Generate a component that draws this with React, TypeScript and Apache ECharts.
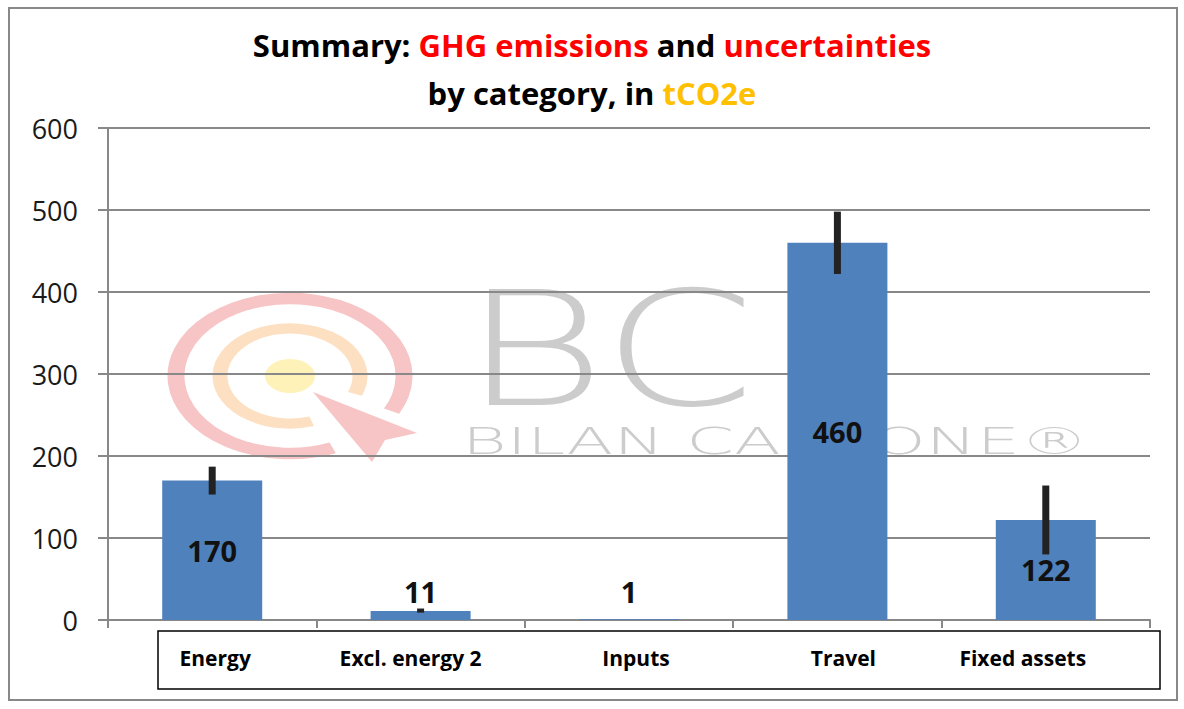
import React, { useEffect, useRef } from "react";
import * as echarts from "echarts";

const categories = ["Energy", "Excl. energy 2", "Inputs", "Travel", "Fixed assets"];
const values = [170, 11, 1, 460, 122];
const errLow = [153, 9, 1, 422, 80];
const errHigh = [187, 14, 1, 498, 164];
const yTicks = { min: 0, max: 600, interval: 100 };

const labelShift = [3, -10, 7, 6, -23];
const FONT = "'Open Sans', 'Noto Sans', sans-serif";

export default function App() {
  const ref = useRef<HTMLDivElement>(null);
  useEffect(() => {
    if (!ref.current) return;
    const chart = echarts.init(ref.current, undefined, { renderer: "svg" });
    const rich: any = {};
    labelShift.forEach((d, i) => {
      rich["c" + i] = {
        fontFamily: FONT,
        fontWeight: "bold",
        fontSize: 21,
        color: "#000",
        padding: d >= 0 ? [0, 0, 0, 2 * d] : [0, -2 * d, 0, 0],
      };
    });
    const deg = Math.PI / 180;
    const option: any = {
      animation: false,
      backgroundColor: "#fff",
      title: {
        left: "center",
        top: 16,
        text: "{b|Summary: }{r|GHG emissions}{b| and }{r|uncertainties}\n{b|by category, in }{y|tCO2e}",
        textStyle: {
          rich: {
            b: { fontFamily: FONT, fontWeight: "bold", fontSize: 31, color: "#000", lineHeight: 48 },
            r: { fontFamily: FONT, fontWeight: "bold", fontSize: 31, color: "#ff0000", lineHeight: 48 },
            y: { fontFamily: FONT, fontWeight: "bold", fontSize: 31, color: "#ffc000", lineHeight: 48 },
          },
        },
      },
      grid: { left: 108, right: 34, top: 128, bottom: 89, containLabel: false },
      xAxis: {
        type: "category",
        data: categories,
        axisLine: { show: true, lineStyle: { color: "#888", width: 2 } },
        axisTick: { show: true, length: 8, lineStyle: { color: "#888", width: 2 } },
        axisLabel: {
          margin: 27,
          formatter: (v: string, i: number) => `{c${i}|${v}}`,
          rich,
        },
        splitLine: { show: false },
      },
      yAxis: {
        type: "value",
        min: yTicks.min,
        max: yTicks.max,
        interval: yTicks.interval,
        axisLine: { show: true, lineStyle: { color: "#888", width: 2 } },
        axisTick: { show: true, length: 10, lineStyle: { color: "#888", width: 2 } },
        axisLabel: { fontFamily: FONT, fontSize: 27, color: "#1a1a1a", margin: 30 },
        splitLine: { show: true, lineStyle: { color: "#888", width: 2 } },
      },
      series: [
        {
          type: "bar",
          barWidth: 100,
          itemStyle: { color: "#4F81BD" },
          data: values.map((v) => ({
            value: v,
            label: {
              show: true,
              position: v > 50 ? "inside" : "insideBottom",
              distance: 14,
              fontFamily: FONT,
              fontWeight: "bold",
              fontSize: 29,
              color: "#111",
            },
          })),
        },
        {
          type: "custom",
          data: categories.map((c, i) => [i, errLow[i], errHigh[i]]),
          renderItem: (params: any, api: any) => {
            const i = api.value(0);
            const p1 = api.coord([i, api.value(1)]);
            const p2 = api.coord([i, api.value(2)]);
            return {
              type: "line",
              shape: { x1: p1[0], y1: p1[1], x2: p2[0], y2: p2[1] },
              style: { stroke: "#222", lineWidth: 7 },
            };
          },
          z: 3,
        },
      ],
      graphic: [
        {
          type: "rect",
          shape: { x: 9, y: 8, width: 1168, height: 692 },
          style: { fill: "none", stroke: "#888", lineWidth: 2 },
          z: -5,
        },
        {
          type: "rect",
          shape: { x: 158, y: 631, width: 1002, height: 58 },
          style: { fill: "none", stroke: "#000", lineWidth: 1.5 },
        },
        {
          type: "group",
          x: 290,
          y: 376,
          scaleY: 0.68,
          z: -1,
          children: [
            {
              type: "arc",
              shape: { cx: 0, cy: 0, r: 114, startAngle: 68 * deg, endAngle: 387 * deg, clockwise: true },
              style: { stroke: "#f7c5c5", lineWidth: 17, fill: "none" },
              z: -1,
            },
            {
              type: "arc",
              shape: { cx: 0, cy: 0, r: 70, startAngle: 72 * deg, endAngle: 382 * deg, clockwise: true },
              style: { stroke: "#fde0c2", lineWidth: 15, fill: "none" },
              z: -1,
            },
            {
              type: "circle",
              shape: { cx: 0, cy: 0, r: 25 },
              style: { fill: "#fff2b8" },
              z: -1,
            },
          ],
        },
        {
          type: "polygon",
          shape: { points: [[313, 392], [417, 433], [385, 440], [372, 462]] },
          style: { fill: "#f7c5c5" },
          z: -1,
        },
        {
          type: "text",
          x: 462,
          y: 350,
          scaleX: 1.39,
          style: {
            text: "BC",
            fontFamily: "'DejaVu Sans', sans-serif",
            fontWeight: 200,
            fontSize: 158,
            fill: "#cccccc",
            align: "left",
            verticalAlign: "middle",
          },
          z: -1,
        },
        {
          type: "text",
          x: 462,
          y: 441,
          scaleX: 1.8,
          style: {
            text: "BILAN CARBONE®",
            fontFamily: "'DejaVu Sans', sans-serif",
            fontWeight: 200,
            fontSize: 38,
            fill: "#cccccc",
            align: "left",
            verticalAlign: "middle",
          },
          z: -1,
        },
      ],
    };
    chart.setOption(option);
    return () => chart.dispose();
  }, []);
  return (
    <div
      ref={ref}
      style={{ position: "absolute", left: 0, top: 0, width: 1184, height: 709 }}
    />
  );
}
